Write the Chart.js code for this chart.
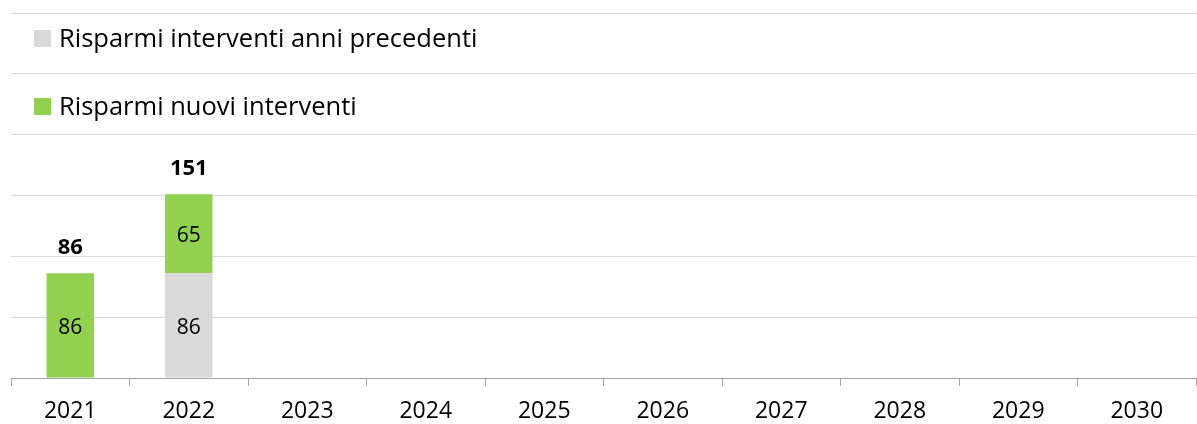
<!DOCTYPE html>
<html>
<head>
<meta charset="utf-8">
<script src="https://cdn.jsdelivr.net/npm/chart.js@4"></script>
<style>
  html, body { margin: 0; padding: 0; background: #fff; }
  #wrap { width: 1197px; height: 424px; }
</style>
</head>
<body>
<div id="wrap"><canvas id="chart"></canvas></div>
<script>
// Data
const years = ['2021', '2022', '2023', '2024', '2025', '2026', '2027', '2028', '2029', '2030'];
const risparmiPrecedenti = [0, 86, null, null, null, null, null, null, null, null];
const risparmiNuovi = [86, 65, null, null, null, null, null, null, null, null];

const FONT = '"Open Sans", sans-serif';

// Value labels inside bars + bold total on top
const barLabels = {
    id: 'barLabels',
    afterDatasetsDraw(chart) {
        const ctx = chart.ctx;
        ctx.save();
        ctx.textAlign = 'center';
        ctx.textBaseline = 'alphabetic';
        ctx.fillStyle = '#000';
        ctx.font = '21px ' + FONT;
        chart.data.datasets.forEach((ds, i) => {
            chart.getDatasetMeta(i).data.forEach((bar, j) => {
                const v = ds.data[j];
                if (!v) return;
                ctx.fillText(v, bar.x, (bar.y + bar.base) / 2 + 8.5);
            });
        });
        // totals
        ctx.font = 'bold 22px ' + FONT;
        const top = chart.getDatasetMeta(chart.data.datasets.length - 1).data;
        years.forEach((y, j) => {
            const tot = (risparmiPrecedenti[j] || 0) + (risparmiNuovi[j] || 0);
            if (!tot) return;
            ctx.fillText(tot, top[j].x, chart.scales.y.getPixelForValue(tot) - 19);
        });
        ctx.restore();
    }
};

// Legend drawn over the plot, stacked vertically
const sideLegend = {
    id: 'sideLegend',
    afterDraw(chart) {
        const ctx = chart.ctx;
        ctx.save();
        ctx.font = '25.5px ' + FONT;
        ctx.textBaseline = 'alphabetic';
        const rows = [47, 115];
        chart.data.datasets.forEach((ds, i) => {
            const y = rows[i];
            ctx.fillStyle = ds.backgroundColor;
            ctx.fillRect(34, y - 17, 17, 17);
            ctx.fillStyle = '#000';
            ctx.fillText(ds.label, 59, y);
        });
        ctx.restore();
    }
};

new Chart(document.getElementById('chart'), {
    type: 'bar',
    data: {
        labels: years,
        datasets: [{
            label: 'Risparmi interventi anni precedenti',
            data: risparmiPrecedenti,
            backgroundColor: '#d9d9d9',
            barPercentage: 0.4,
            categoryPercentage: 1
        }, {
            label: 'Risparmi nuovi interventi',
            data: risparmiNuovi,
            backgroundColor: '#92d050',
            barPercentage: 0.4,
            categoryPercentage: 1
        }]
    },
    options: {
        responsive: true,
        maintainAspectRatio: false,
        animation: false,
        layout: { padding: { left: 11, right: 1, top: 13, bottom: 0 } },
        scales: {
            x: {
                stacked: true,
                grid: { drawOnChartArea: false, color: '#a6a6a6', tickLength: 8 },
                border: { color: '#a6a6a6' },
                ticks: { color: '#000', font: { family: FONT, size: 23 }, padding: 12 },
                afterFit: (s) => { s.height = 46; }
            },
            y: {
                stacked: true,
                min: 0,
                max: 300,
                ticks: { display: false, stepSize: 50 },
                grid: { color: '#d9d9d9', drawTicks: false },
                border: { display: false }
            }
        },
        plugins: {
            legend: { display: false },
            tooltip: { enabled: false }
        }
    },
    plugins: [barLabels, sideLegend]
});
</script>
</body>
</html>
